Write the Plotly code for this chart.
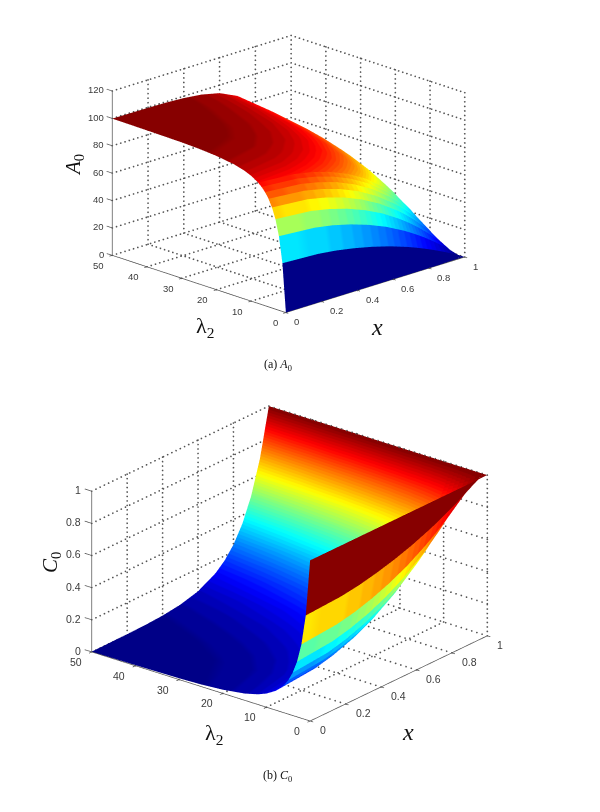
import plotly.graph_objects as go

# grid
x_vals = [0, .2, .3, .4, .5, .6, .7, .75, .8, .85, .9, .95, 1]
lam_vals = [0, 1, 2, 3, 4, 5, 6, 7, 8, 10, 12, 15, 20, 25, 30, 40, 50]

C0 = [
 [1, 1, 1, 1, 1, 1, 1, 1, 1, 1, 1, 1, 1],
 [.648, .661, .677, .701, .731, .768, .813, .839, .867, .897, .929, .963, 1],
 [.459, .478, .501, .535, .579, .634, .703, .743, .786, .833, .884, .939, 1],
 [.343, .364, .391, .429, .480, .545, .628, .676, .729, .787, .852, .922, 1],
 [.266, .287, .315, .355, .410, .481, .572, .625, .685, .752, .826, .908, 1],
 [.211, .233, .261, .302, .358, .432, .528, .585, .650, .723, .805, .897, 1],
 [.171, .192, .220, .260, .317, .392, .491, .552, .620, .698, .786, .887, 1],
 [.141, .161, .188, .228, .284, .360, .461, .523, .595, .677, .771, .878, 1],
 [.118, .137, .163, .202, .257, .332, .435, .498, .572, .657, .755, .869, 1],
 [.085, .102, .126, .162, .214, .288, .391, .457, .534, .624, .730, .855, 1],
 [.063, .078, .099, .133, .182, .254, .356, .423, .502, .596, .708, .841, 1],
 [.042, .055, .073, .102, .147, .214, .314, .381, .462, .560, .679, .824, 1],
 [.023, .033, .047, .070, .108, .168, .262, .327, .409, .511, .640, .799, 1],
 [.013, .021, .032, .051, .083, .136, .223, .287, .368, .473, .607, .779, 1],
 [.008, .014, .022, .038, .065, .112, .193, .254, .334, .440, .578, .760, 1],
 [.004, .007, .012, .023, .042, .080, .150, .206, .282, .387, .531, .729, 1],
 [.002, .004, .007, .014, .029, .059, .120, .171, .243, .346, .493, .702, 1],
]

A0 = [
 [0, 0, 0, 0, 0, 0, 0, 0, 0, 0, 0, 0, 0],
 [35.2, 33.9, 32.3, 29.9, 26.9, 23.2, 18.7, 16.1, 13.3, 10.3, 7.1, 3.7, 0],
 [54.1, 52.2, 49.9, 46.5, 42.1, 36.6, 29.7, 25.7, 21.4, 16.7, 11.6, 6.1, 0],
 [65.7, 63.6, 60.9, 57.1, 52.0, 45.5, 37.2, 32.4, 27.1, 21.3, 14.8, 7.8, 0],
 [73.4, 71.3, 68.5, 64.5, 59.0, 51.9, 42.8, 37.5, 31.5, 24.8, 17.4, 9.2, 0],
 [78.9, 76.7, 73.9, 69.8, 64.2, 56.8, 47.2, 41.5, 35.0, 27.7, 19.5, 10.3, 0],
 [82.9, 80.8, 78.0, 74.0, 68.3, 60.8, 50.9, 44.8, 38.0, 30.2, 21.4, 11.3, 0],
 [85.9, 83.9, 81.2, 77.2, 71.6, 64.0, 53.9, 47.7, 40.5, 32.3, 22.9, 12.2, 0],
 [88.2, 86.3, 83.7, 79.8, 74.3, 66.8, 56.5, 50.2, 42.8, 34.3, 24.5, 13.1, 0],
 [91.5, 89.8, 87.4, 83.8, 78.6, 71.2, 60.9, 54.3, 46.6, 37.6, 27.0, 14.5, 0],
 [93.7, 92.2, 90.1, 86.7, 81.8, 74.6, 64.4, 57.7, 49.8, 40.4, 29.2, 15.9, 0],
 [95.8, 94.5, 92.7, 89.8, 85.3, 78.6, 68.6, 61.9, 53.8, 44.0, 32.1, 17.6, 0],
 [97.7, 96.7, 95.3, 93.0, 89.2, 83.2, 73.8, 67.3, 59.1, 48.9, 36.0, 20.1, 0],
 [98.7, 97.9, 96.8, 94.9, 91.7, 86.4, 77.7, 71.3, 63.2, 52.7, 39.3, 22.1, 0],
 [99.2, 98.6, 97.8, 96.2, 93.5, 88.8, 80.7, 74.6, 66.6, 56.0, 42.2, 24.0, 0],
 [99.6, 99.3, 98.8, 97.7, 95.8, 92.0, 85.0, 79.4, 71.8, 61.3, 46.9, 27.1, 0],
 [99.8, 99.6, 99.3, 98.6, 97.1, 94.1, 88.0, 82.9, 75.7, 65.4, 50.7, 29.8, 0],
]

x_ticks = [0, .2, .4, .6, .8, 1]
lam_ticks = [0, 10, 20, 30, 40, 50]
A_ticks = [0, 20, 40, 60, 80, 100, 120]
C_ticks = [0, .2, .4, .6, .8, 1]
FLAT_UNTIL = 8   # strips are flat-coloured up to this row
X_PAD, L_PAD = .05, 2.5


def jet64():
    def clip(v):
        return max(0, min(1, v))
    scale = []
    for k in range(64):
        t = (k + .5) / 64
        r = clip(min(4 * t - 1.5, -4 * t + 4.5))
        g = clip(min(4 * t - .5, -4 * t + 3.5))
        b = clip(min(4 * t + .5, -4 * t + 2.5))
        col = f"rgb({round(r*255)},{round(g*255)},{round(b*255)})"
        scale += [[k / 64, col], [(k + 1) / 64, col]]
    return scale


def surface(table, zmax, scene):
    vx, vy, vz, vc, ti, tj, tk = [], [], [], [], [], [], []
    n = len(x_vals)
    for r in range(len(lam_vals) - 1):
        base = len(vx)
        for rr in (r, r + 1):
            for c in range(n):
                vx.append(x_vals[c])
                vy.append(lam_vals[rr])
                vz.append(table[rr][c])
                vc.append(table[r][c] if r < FLAT_UNTIL else table[rr][c])
        for c in range(n - 1):
            a, b, d, e = base + c, base + c + 1, base + n + c, base + n + c + 1
            ti += [a, a]
            tj += [b, e]
            tk += [e, d]
    return go.Mesh3d(x=vx, y=vy, z=vz, i=ti, j=tj, k=tk, intensity=vc, colorscale=jet64(),
                     cmin=0, cmax=zmax, showscale=False, flatshading=True, hoverinfo="skip",
                     lighting=dict(ambient=1, diffuse=0, specular=0, roughness=1, fresnel=0),
                     scene=scene)


def grid(zt, scene):
    gx, gy, gz = [], [], []
    def seg(a, b, dots):
        for s in range(dots + 1):
            f = s / dots
            gx.append(a[0] + (b[0] - a[0]) * f)
            gy.append(a[1] + (b[1] - a[1]) * f)
            gz.append(a[2] + (b[2] - a[2]) * f)
    X, L, Z = x_ticks[-1], lam_ticks[-1], zt[-1]
    for t in x_ticks:
        if t > 0:
            seg((t, 0, 0), (t, L, 0), 42)
            seg((t, L, 0), (t, L, Z), 36)
    for t in lam_ticks:
        if t > 0:
            seg((0, t, 0), (X, t, 0), 42)
        seg((X, t, 0), (X, t, Z), 36)
    for t in zt:
        seg((0, L, t), (X, L, t), 42)
        seg((X, L, t), (X, 0, t), 42)
    return go.Scatter3d(x=gx, y=gy, z=gz, mode="markers", marker=dict(color="#555", size=1, line=dict(width=0)),
                        hoverinfo="skip", showlegend=False, scene=scene)


def axes_lines(zt, scene):
    gx, gy, gz = [], [], []
    def seg(a, b):
        gx.extend([a[0], b[0], None])
        gy.extend([a[1], b[1], None])
        gz.extend([a[2], b[2], None])
    X, L, Z = x_ticks[-1], lam_ticks[-1], zt[-1]
    seg((0, 0, 0), (X, 0, 0))
    seg((0, 0, 0), (0, L, 0))
    seg((0, L, 0), (0, L, Z))
    for t in x_ticks:
        seg((t, 0, 0), (t, -.7, 0))
    for t in lam_ticks:
        seg((0, t, 0), (-.015, t, 0))
    for t in zt:
        seg((0, L, t), (0, L + 1.6, t))
    return go.Scatter3d(x=gx, y=gy, z=gz, mode="lines", line=dict(color="#555", width=1.5),
                        connectgaps=False, hoverinfo="skip", showlegend=False, scene=scene)


def axis(ticks, rng):
    return dict(range=rng, tickvals=ticks, title=dict(text=""), showticklabels=False, ticks="",
                showgrid=False, zeroline=False, showbackground=False, showspikes=False, showline=False)


def tick_labels(zt, size, zdx, ldx, xdx):
    out = []
    font = dict(family="Liberation Sans", size=size, color="#3a3a3a")
    L = lam_ticks[-1]
    for t in zt:
        out.append(dict(x=0, y=L, z=t, text=f"{t:g}", showarrow=False, font=font, xanchor="right",
                        yanchor="middle", xshift=zdx, yshift=1))
    for t in lam_ticks:
        out.append(dict(x=0, y=t, z=0, text=f"{t:g}", showarrow=False, font=font, xanchor="right",
                        yanchor="middle", xshift=ldx, yshift=-10))
    for t in x_ticks:
        out.append(dict(x=t, y=0, z=0, text=f"{t:g}", showarrow=False, font=font, xanchor="left",
                        yanchor="middle", xshift=xdx, yshift=-9))
    return out


fig = go.Figure([surface(A0, 100, "scene"), grid(A_ticks, "scene"), axes_lines(A_ticks, "scene"),
                 surface(C0, 1, "scene2"), grid(C_ticks, "scene2"), axes_lines(C_ticks, "scene2")])

X_RANGE = [x_ticks[0] - X_PAD, x_ticks[-1] + X_PAD]
L_RANGE = [lam_ticks[0] - L_PAD, lam_ticks[-1] + L_PAD]

fig.update_layout(
    width=600, height=812, margin=dict(l=0, r=0, t=0, b=0), paper_bgcolor="white", showlegend=False,
    scene=dict(domain=dict(x=[0, .962], y=[1 - 348 / 812, 1]), xaxis=axis(x_ticks, X_RANGE),
               yaxis=axis(lam_ticks, L_RANGE), zaxis=axis(A_ticks, [0, 120]),
               aspectmode="manual", aspectratio=dict(x=1.576, y=1.576, z=.997), bgcolor="white",
               camera=dict(projection=dict(type="orthographic"), eye=dict(x=-1.32, y=-1.36, z=.64),
                           up=dict(x=0, y=0, z=1)),
               annotations=tick_labels(A_ticks, 9.5, -6, -6, 6)),
    scene2=dict(domain=dict(x=[0, .965], y=[1 - 779 / 812, 1 - 348 / 812]), xaxis=axis(x_ticks, X_RANGE),
                yaxis=axis(lam_ticks, L_RANGE), zaxis=axis(C_ticks, [0, 1]),
                aspectmode="manual", aspectratio=dict(x=1.4355, y=1.4355, z=.81), bgcolor="white",
                camera=dict(projection=dict(type="orthographic"), eye=dict(x=-1.43, y=-1.16, z=.78),
                            up=dict(x=0, y=0, z=1)),
                annotations=tick_labels(C_ticks, 10.5, -9, -8, 8)),
)


def note(text, px, py, size, angle=0, family="Liberation Serif"):
    fig.add_annotation(text=text, x=px / 600, y=1 - py / 812, xref="paper", yref="paper", showarrow=False,
                       textangle=angle, font=dict(family=family, size=size, color="#111"),
                       xanchor="center", yanchor="middle")


note("<i>x</i>", 377, 327, 24)
note("λ<sub>2</sub>", 205, 327, 22)
note("<i>A</i><sub>0</sub>", 74, 165, 21, -90)
note("(a) <i>A</i><sub>0</sub>", 277.5, 365, 12)
note("<i>x</i>", 408, 732, 24)
note("λ<sub>2</sub>", 214, 734, 22)
note("<i>C</i><sub>0</sub>", 51, 563, 21, -90)
note("(b) <i>C</i><sub>0</sub>", 277.5, 776, 12)

fig.write_html("out.html", config=dict(displayModeBar=False), post_script="document.body.style.margin='0';")
